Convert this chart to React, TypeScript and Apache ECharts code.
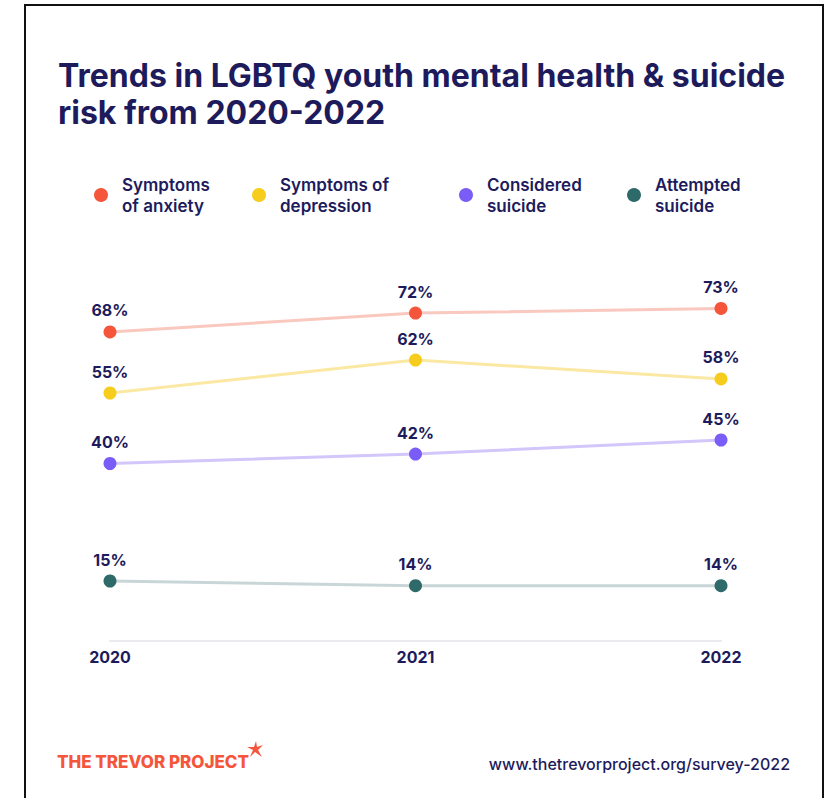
import React, { useEffect, useRef } from "react";
import * as echarts from "echarts";

const years = ["2020", "2021", "2022"];
const anxiety = [68, 72, 73];
const depression = [55, 62, 58];
const considered = [40, 42, 45];
const attempted = [15, 14, 14];
const seriesNames = ["Symptoms of anxiety", "Symptoms of depression", "Considered suicide", "Attempted suicide"];
const legendLines: Record<string, string> = {
  "Symptoms of anxiety": "Symptoms\nof anxiety",
  "Symptoms of depression": "Symptoms of\ndepression",
  "Considered suicide": "Considered\nsuicide",
  "Attempted suicide": "Attempted\nsuicide",
};

const NAVY = "#1d1b5c";
const FONT = "Inter, 'Noto Sans', sans-serif";

export default function App() {
  const ref = useRef<HTMLDivElement>(null);
  useEffect(() => {
    if (!ref.current) return;
    const chart = echarts.init(ref.current, null, { renderer: "svg" });
    const pointColors = ["#f5553b", "#f6cd1c", "#7a5cf6", "#2f6a6a"];
    const lineColors = ["#f9c8bf", "#fbe8a2", "#d2c6fb", "#c9d6d8"];
    const datas = [anxiety, depression, considered, attempted];
    const legendLeft = [93, 251, 458, 626];
    const mkSeries = (i: number) => ({
      name: seriesNames[i],
      type: "line",
      data: datas[i],
      symbol: "circle",
      symbolSize: 13,
      color: pointColors[i],
      itemStyle: { color: pointColors[i] },
      lineStyle: { color: lineColors[i], width: 3 },
      label: {
        show: true,
        position: "top",
        distance: 7,
        formatter: "{c}%",
        color: NAVY,
        fontFamily: FONT,
        fontWeight: 700,
        fontSize: 16,
      },
      z: 3,
    });
    chart.setOption({
      animation: false,
      backgroundColor: "#ffffff",
      grid: { left: 110, right: 113, top: 181.5, height: 470 },
      xAxis: {
        type: "category",
        data: years,
        boundaryGap: false,
        offset: -11,
        axisLine: { show: true, lineStyle: { color: "#e9ebef", width: 2 } },
        axisTick: { show: false },
        axisLabel: {
          color: NAVY,
          fontFamily: FONT,
          fontWeight: 700,
          fontSize: 16,
          margin: 8,
        },
      },
      yAxis: {
        type: "value",
        min: 0,
        max: 100,
        show: false,
        splitLine: { show: false },
      },
      legend: seriesNames.map((n, i) => ({
        data: [n],
        left: legendLeft[i] - 4,
        top: 169,
        icon: "circle",
        itemWidth: 14,
        itemHeight: 14,
        formatter: (name: string) => legendLines[name],
        selectedMode: false,
        textStyle: {
          color: NAVY,
          fontFamily: FONT,
          fontWeight: 600,
          fontSize: 17,
          lineHeight: 21,
          padding: [0, 0, 0, 9],
        },
      })),
      series: [0, 1, 2, 3].map(mkSeries),
      graphic: [
        {
          type: "rect",
          shape: { x: 25, y: 5, width: 798, height: 820 },
          style: { fill: "none", stroke: "#111111", lineWidth: 2 },
          silent: true,
        },
        {
          type: "text",
          left: 58,
          top: 57,
          style: {
            text: "Trends in LGBTQ youth mental health & suicide\nrisk from 2020-2022",
            fill: NAVY,
            font: `700 32px ${FONT}`,
            lineHeight: 37,
          },
        },
        {
          type: "text",
          left: 57,
          top: 753,
          style: {
            text: "THE TREVOR PROJECT",
            fill: "#f5553b",
            font: `800 17px ${FONT}`,
          },
        },
        {
          type: "polygon",
          shape: {
            points: [
              [256, 741], [257, 747], [263, 745], [258, 750], [262, 757],
              [255, 752], [250, 757], [253, 750], [247, 747], [254, 747],
            ],
          },
          style: { fill: "#f5553b" },
        },
        {
          type: "text",
          right: 44,
          top: 756,
          style: {
            text: "www.thetrevorproject.org/survey-2022",
            fill: NAVY,
            font: `500 16px ${FONT}`,
          },
        },
      ],
    });
    return () => chart.dispose();
  }, []);
  return (
    <div
      ref={ref}
      style={{ position: "fixed", left: 0, top: 0, width: 834, height: 798 }}
    />
  );
}
